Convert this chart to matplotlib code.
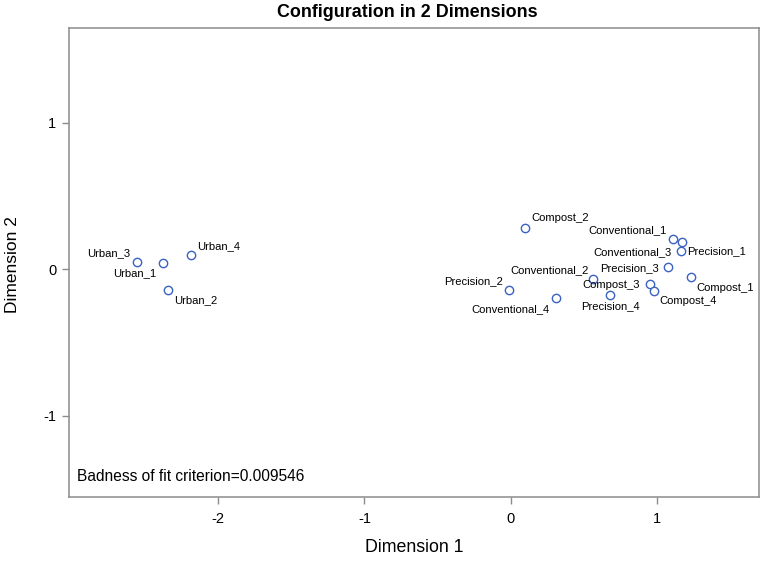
import matplotlib
matplotlib.use('Agg')
import matplotlib.pyplot as plt

# MDS configuration
names = ['Compost_2', 'Conventional_1', 'Precision_1', 'Conventional_3',
         'Precision_3', 'Compost_1', 'Conventional_2', 'Compost_3',
         'Compost_4', 'Precision_4', 'Precision_2', 'Conventional_4',
         'Urban_3', 'Urban_1', 'Urban_4', 'Urban_2']
dim1 = [0.098, 1.107, 1.169, 1.162, 1.073, 1.232, 0.565, 0.952,
        0.982, 0.681, -0.010, 0.308, -2.556, -2.379, -2.185, -2.342]
dim2 = [0.283, 0.206, 0.190, 0.126, 0.019, -0.053, -0.063, -0.101,
        -0.145, -0.176, -0.142, -0.195, 0.053, 0.044, 0.101, -0.142]
ticks = [-2, -1, 0, 1]
stress = 0.009546

# label placement (pixel offset from the marker, horizontal alignment)
label_pos = {
    'Compost_2': (6, 10, 'left'),
    'Conventional_1': (-6, 9, 'right'),
    'Precision_1': (5, -10, 'left'),
    'Conventional_3': (-9, -1, 'right'),
    'Precision_3': (-9, -1, 'right'),
    'Compost_1': (5, -11, 'left'),
    'Conventional_2': (-5, 9, 'right'),
    'Compost_3': (-10, -1, 'right'),
    'Compost_4': (5, -10, 'left'),
    'Precision_4': (0, -11, 'center'),
    'Precision_2': (-6, 9, 'right'),
    'Conventional_4': (-6, -11, 'right'),
    'Urban_3': (-6, 9, 'right'),
    'Urban_1': (-6, -10, 'right'),
    'Urban_4': (6, 9, 'left'),
    'Urban_2': (6, -10, 'left'),
}

plt.rcParams['font.family'] = ['Liberation Sans', 'DejaVu Sans']

fig = plt.figure(figsize=(7.63, 5.62), dpi=100)
ax = fig.add_axes([0.0904, 0.1157, 0.9044, 0.8345])

ax.plot(dim1, dim2, 'o', linestyle='none', markersize=6,
        markerfacecolor='white', markeredgecolor='#3a62c2', markeredgewidth=1.0)

for n, x, y in zip(names, dim1, dim2):
    dx, dy, ha = label_pos[n]
    ax.annotate(n, (x, y), xytext=(dx, dy), textcoords='offset pixels',
                ha=ha, va='center', fontsize=8.1, color='black')

ax.set_xlim(-3.019, 1.697)
ax.set_ylim(-1.553, 1.648)
ax.set_xticks(ticks)
ax.set_yticks([-1, 0, 1])
ax.set_xticklabels([str(t) for t in ticks])
ax.set_yticklabels(['-1', '0', '1'])

for s in ax.spines.values():
    s.set_color('#8c8c8c')
    s.set_linewidth(1.1)
ax.tick_params(axis='both', direction='out', length=5, width=1.0,
               color='#8c8c8c', labelsize=10.5, labelcolor='black')
ax.tick_params(axis='x', pad=6)
ax.tick_params(axis='y', pad=4)

ax.set_xlabel('Dimension 1', fontsize=12.8, va='center')
ax.xaxis.set_label_coords(0.5, -0.1087)
ax.set_ylabel('Dimension 2', fontsize=12.5, va='center')
ax.yaxis.set_label_coords(-0.0812, 0.4947)

ax.text(0.0116, 0.0426, 'Badness of fit criterion=' + str(stress),
        transform=ax.transAxes, fontsize=11.2, va='center', ha='left')

fig.text(0.5334, 0.9786, 'Configuration in 2 Dimensions', ha='center', va='center',
         fontsize=12.9, fontweight='bold')

fig.savefig('out.png', dpi=100)
